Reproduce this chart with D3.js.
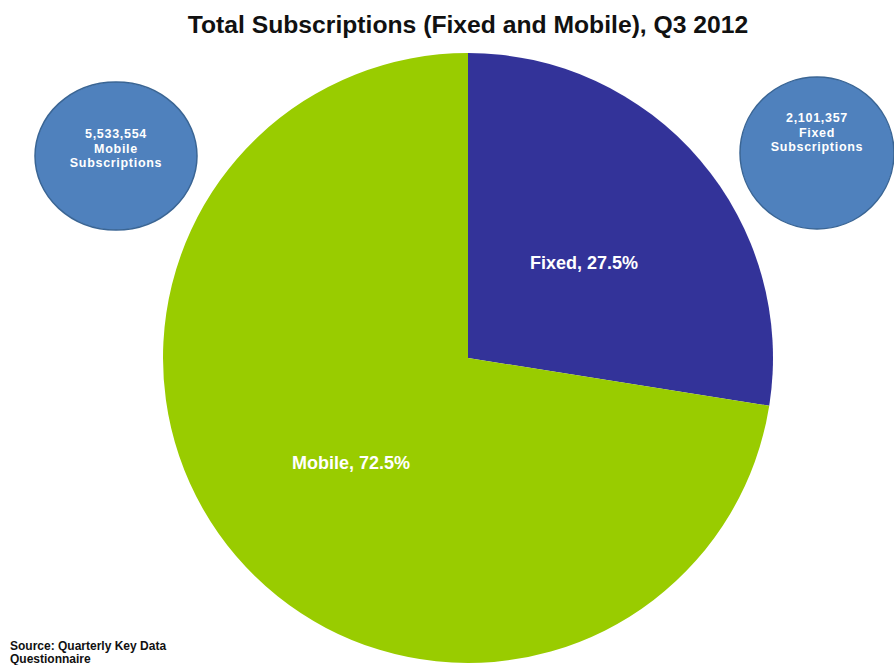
<!doctype html>
<html>
<head>
<style>
  body { margin: 0; background: #fff; }
  text { font-family: "Liberation Sans", Arial, sans-serif; }
</style>
<script src="https://d3js.org/d3.v7.min.js"></script>
</head>
<body>
<svg width="894" height="665"></svg>
<script>
// data
var categories = ["Fixed", "Mobile"];
var shares = [27.5, 72.5];
var subscriptions = [2101357, 5533554];
var sliceColors = ["#333399", "#99CC00"];
var title = "Total Subscriptions (Fixed and Mobile), Q3 2012";
var sourceLines = ["Source: Quarterly Key Data", "Questionnaire"];

var svg = d3.select("svg");
var cx = 468, cy = 358, radius = 305;

svg.append("text")
   .attr("x", 468)
   .attr("y", 33)
   .attr("text-anchor", "middle")
   .attr("font-size", "24.7px")
   .attr("font-weight", "bold")
   .attr("fill", "#111")
   .text(title);

var data = categories.map(function(c, i) {
    return { name: c, share: shares[i], subs: subscriptions[i], color: sliceColors[i] };
});

var pie = d3.pie().sort(null).value(function(d) { return d.share; });
var arc = d3.arc().innerRadius(0).outerRadius(radius);

var g = svg.append("g").attr("transform", "translate(" + cx + "," + cy + ")");

var arcs = pie(data);
g.selectAll("path")
 .data(arcs)
 .enter().append("path")
 .attr("d", arc)
 .attr("fill", function(d) { return d.data.color; });

// slice labels
var labelPos = [[116, -89], [-117, 111]];
g.selectAll(".lbl")
 .data(arcs)
 .enter().append("text")
 .attr("class", "lbl")
 .attr("x", function(d, i) { return labelPos[i][0]; })
 .attr("y", function(d, i) { return labelPos[i][1]; })
 .attr("text-anchor", "middle")
 .attr("font-size", "18px")
 .attr("font-weight", "bold")
 .attr("fill", "#fff")
 .text(function(d) { return d.data.name + ", " + d3.format(".1f")(d.data.share) + "%"; });

// callout bubbles
var bubbles = [
    { i: 1, x: 116, y: 156, rx: 81, ry: 74, ty: 138 },
    { i: 0, x: 817, y: 153, rx: 77, ry: 76, ty: 122 }
];
bubbles.forEach(function(b) {
    var d = data[b.i];
    svg.append("ellipse")
       .attr("cx", b.x).attr("cy", b.y)
       .attr("rx", b.rx).attr("ry", b.ry)
       .attr("fill", "#4F81BD")
       .attr("stroke", "#3A6594")
       .attr("stroke-width", 1.5);
    var t = svg.append("text")
       .attr("x", b.x)
       .attr("text-anchor", "middle")
       .attr("font-size", "12.5px")
       .attr("letter-spacing", "0.7px")
       .attr("font-weight", "bold")
       .attr("fill", "#fff");
    [d3.format(",")(d.subs), d.name, "Subscriptions"].forEach(function(s, k) {
        t.append("tspan").attr("x", b.x).attr("y", b.ty + k * 14.5).text(s);
    });
});

// source note
var src = svg.append("text")
   .attr("font-size", "12px")
   .attr("font-weight", "bold")
   .attr("fill", "#111");
sourceLines.forEach(function(s, k) {
    src.append("tspan").attr("x", 10).attr("y", 650 + k * 13).text(s);
});
</script>
</body>
</html>
